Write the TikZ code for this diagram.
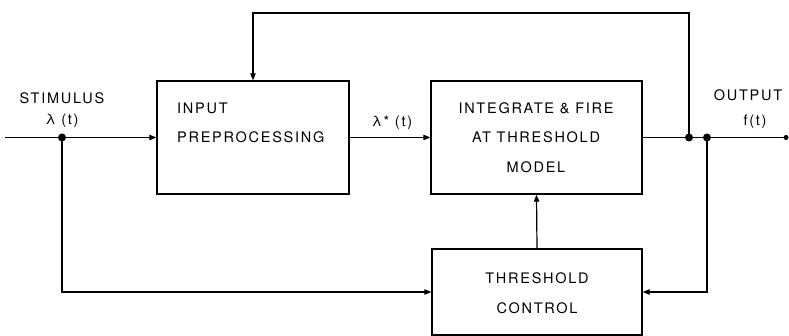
\documentclass[tikz,border=0pt]{standalone}
\usepackage{fontspec}
\setmainfont{TeX Gyre Heros}[LetterSpace=12]
\usetikzlibrary{arrows.meta}
\begin{document}
\begin{tikzpicture}[x=1pt,y=-1pt,
  box/.style={draw,line width=1.4pt,rectangle,inner sep=0pt},
  lbl/.style={font=\fontsize{14.5}{16}\selectfont,inner sep=0pt},
  wire/.style={line width=1.2pt},
  arr/.style={wire,-{Triangle[length=7pt,width=5.5pt]}},
  dotc/.style={circle,fill,inner sep=0pt,minimum size=8pt}]
\useasboundingbox (0,0) rectangle (789,336);
% boxes
\node[box,minimum width=192,minimum height=113] (inp) at (253,137.5) {};
\node[box,minimum width=211,minimum height=113] (int) at (536.5,137.5) {};
\node[box,minimum width=210,minimum height=86] (thr) at (537,292) {};
% junctions
\coordinate (src) at (5,137.5);
\node[dotc] (d1) at (62,137.5) {};
\node[dotc] (d2) at (689,137.5) {};
\node[dotc] (d3) at (707,137.5) {};
\node[dotc,minimum size=5pt] (out) at (786,137.5) {};
\coordinate (top) at (689,13);
% labels
\node[lbl] (stim) at (62,98) {STIMULUS};
\node[lbl] (lam) at (62,121) {λ (t)};
\node[lbl,anchor=west] (t1) at (177,108) {INPUT};
\node[lbl,anchor=west] (t2) at (177,137) {PREPROCESSING};
\node[lbl] (lamstar) at (392,123) {λ* (t)};
\node[lbl] (t3) at (536,108) {INTEGRATE \& FIRE};
\node[lbl] (t4) at (536,137) {AT THRESHOLD};
\node[lbl] (t5) at (536,167) {MODEL};
\node[lbl] (t6) at (537,278) {THRESHOLD};
\node[lbl] (t7) at (537,308) {CONTROL};
\node[lbl] (outl) at (748,95) {OUTPUT};
\node[lbl] (ft) at (755,122) {f(t)};
% connectors
\draw[arr] (src) -- (inp.west);
\draw[arr] (inp.east) -- (int.west);
\draw[wire] (int.east) -- (out.center);
\draw[arr] (d2.center) -- (top) -| (inp.north);
\draw[arr] (d3.center) |- (thr.east);
\draw[arr] (d1.center) |- (thr.west);
\draw[arr] (thr.north) -- (int.south);
\end{tikzpicture}
\end{document}
